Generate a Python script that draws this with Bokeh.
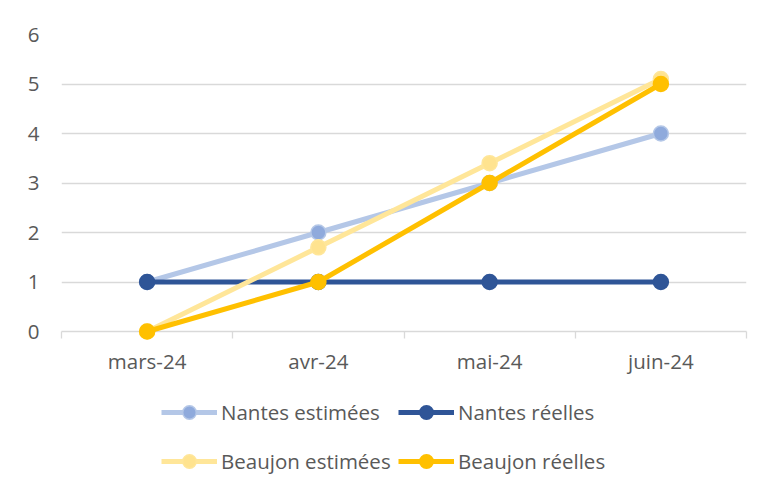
from bokeh.plotting import figure
from bokeh.layouts import column
from bokeh.models import Range1d, FixedTicker, LinearAxis, Legend, LegendItem
from bokeh.embed import file_html
from bokeh.resources import INLINE

months = ["mars-24", "avr-24", "mai-24", "juin-24"]
nantes_est = [1, 2, 3, 4]
nantes_reel = [1, 1, 1, 1]
beaujon_est = [0, 1.7, 3.4, 5.1]
beaujon_reel = [0, 1, 3, 5]
y_ticks = [0, 1, 2, 3, 4, 5, 6]

x = list(range(len(months)))
FONT = "Open Sans"
FS = "20.5px"
TXT = "#595959"
GRID = "#D9D9D9"

series = [
    ("Nantes estimées", nantes_est, "#B4C7E7", "#8FAADC"),
    ("Nantes réelles", nantes_reel, "#2F5597", "#2F5597"),
    ("Beaujon estimées", beaujon_est, "#FFE699", "#FFE38F"),
    ("Beaujon réelles", beaujon_reel, "#FFC000", "#FFC000"),
]

p = figure(frame_width=685, frame_height=297,
           x_range=Range1d(-0.5, len(months) - 0.5),
           y_range=Range1d(0, 6), output_backend="svg", toolbar_location=None,
           min_border_left=61, min_border_right=14, min_border_top=34,
           min_border_bottom=49, x_axis_type=None)
p.outline_line_color = None
p.background_fill_color = "white"
p.border_fill_color = "white"

# y axis
p.yaxis.ticker = FixedTicker(ticks=y_ticks)
p.yaxis.axis_line_color = None
p.yaxis.major_tick_line_color = None
p.yaxis.minor_tick_line_color = None
p.yaxis.major_tick_out = 0
p.yaxis.major_label_standoff = 22
p.yaxis.major_label_text_font = FONT
p.yaxis.major_label_text_font_size = FS
p.yaxis.major_label_text_color = TXT
p.ygrid.ticker = FixedTicker(ticks=y_ticks)
p.ygrid.grid_line_color = GRID
p.ygrid.grid_line_width = 1.3

# x axis: boundary ticks, no labels
bounds = [i - 0.5 for i in range(len(months) + 1)]
ax_ticks = LinearAxis(ticker=FixedTicker(ticks=bounds),
                      major_label_overrides={b: "" for b in bounds})
ax_ticks.axis_line_color = GRID
ax_ticks.axis_line_width = 1.3
ax_ticks.major_tick_line_color = GRID
ax_ticks.major_tick_line_width = 1.3
ax_ticks.major_tick_out = 7
ax_ticks.major_tick_in = 0
ax_ticks.minor_tick_line_color = None
ax_ticks.major_label_standoff = 0
p.add_layout(ax_ticks, "below")

# x axis: labels at category centres
ax_lab = LinearAxis(ticker=FixedTicker(ticks=x),
                    major_label_overrides={i: m for i, m in zip(x, months)})
ax_lab.axis_line_color = None
ax_lab.major_tick_line_color = None
ax_lab.minor_tick_line_color = None
ax_lab.major_tick_out = 0
ax_lab.major_tick_in = 0
ax_lab.major_label_standoff = 8
ax_lab.major_label_text_font = FONT
ax_lab.major_label_text_font_size = FS
ax_lab.major_label_text_color = TXT
p.add_layout(ax_lab, "below")

for name, ys, lc, mc in series:
    p.line(x, ys, line_color=lc, line_width=5, level="overlay")
    p.scatter(x, ys, size=15, marker="circle", fill_color=mc,
              line_color=lc, line_width=1.5, level="overlay")

# legend strip (separate figure, its renderers lie outside its visible range)
p2 = figure(width=760, height=98, x_range=Range1d(-0.5, len(months) - 0.5),
            y_range=Range1d(100, 101), output_backend="svg",
            toolbar_location=None, x_axis_type=None, y_axis_type=None,
            min_border_left=61, min_border_right=14, min_border_top=0,
            min_border_bottom=0)
p2.outline_line_color = None
p2.grid.visible = False
p2.border_fill_color = "white"

items = []
for name, ys, lc, mc in series:
    r1 = p2.line(x, ys, line_color=lc, line_width=5)
    r2 = p2.scatter(x, ys, size=15, marker="circle", fill_color=mc,
                    line_color=lc, line_width=1.5)
    items.append(LegendItem(label=name, renderers=[r1, r2]))

for row, yloc in ((items[:2], 49), (items[2:], 0)):
    lg = Legend(items=row, orientation="horizontal", location=(100, yloc))
    lg.label_text_font = FONT
    lg.label_text_font_size = FS
    lg.label_text_color = TXT
    lg.glyph_width = 56
    lg.glyph_height = 34
    lg.label_height = 34
    lg.label_width = 171
    lg.label_standoff = 4
    lg.spacing = 6
    lg.padding = 0
    lg.margin = 0
    lg.border_line_color = None
    lg.background_fill_alpha = 0
    p2.add_layout(lg, "center")

layout = column(p, p2, spacing=0)
open("out.html", "w").write(file_html(layout, INLINE))
